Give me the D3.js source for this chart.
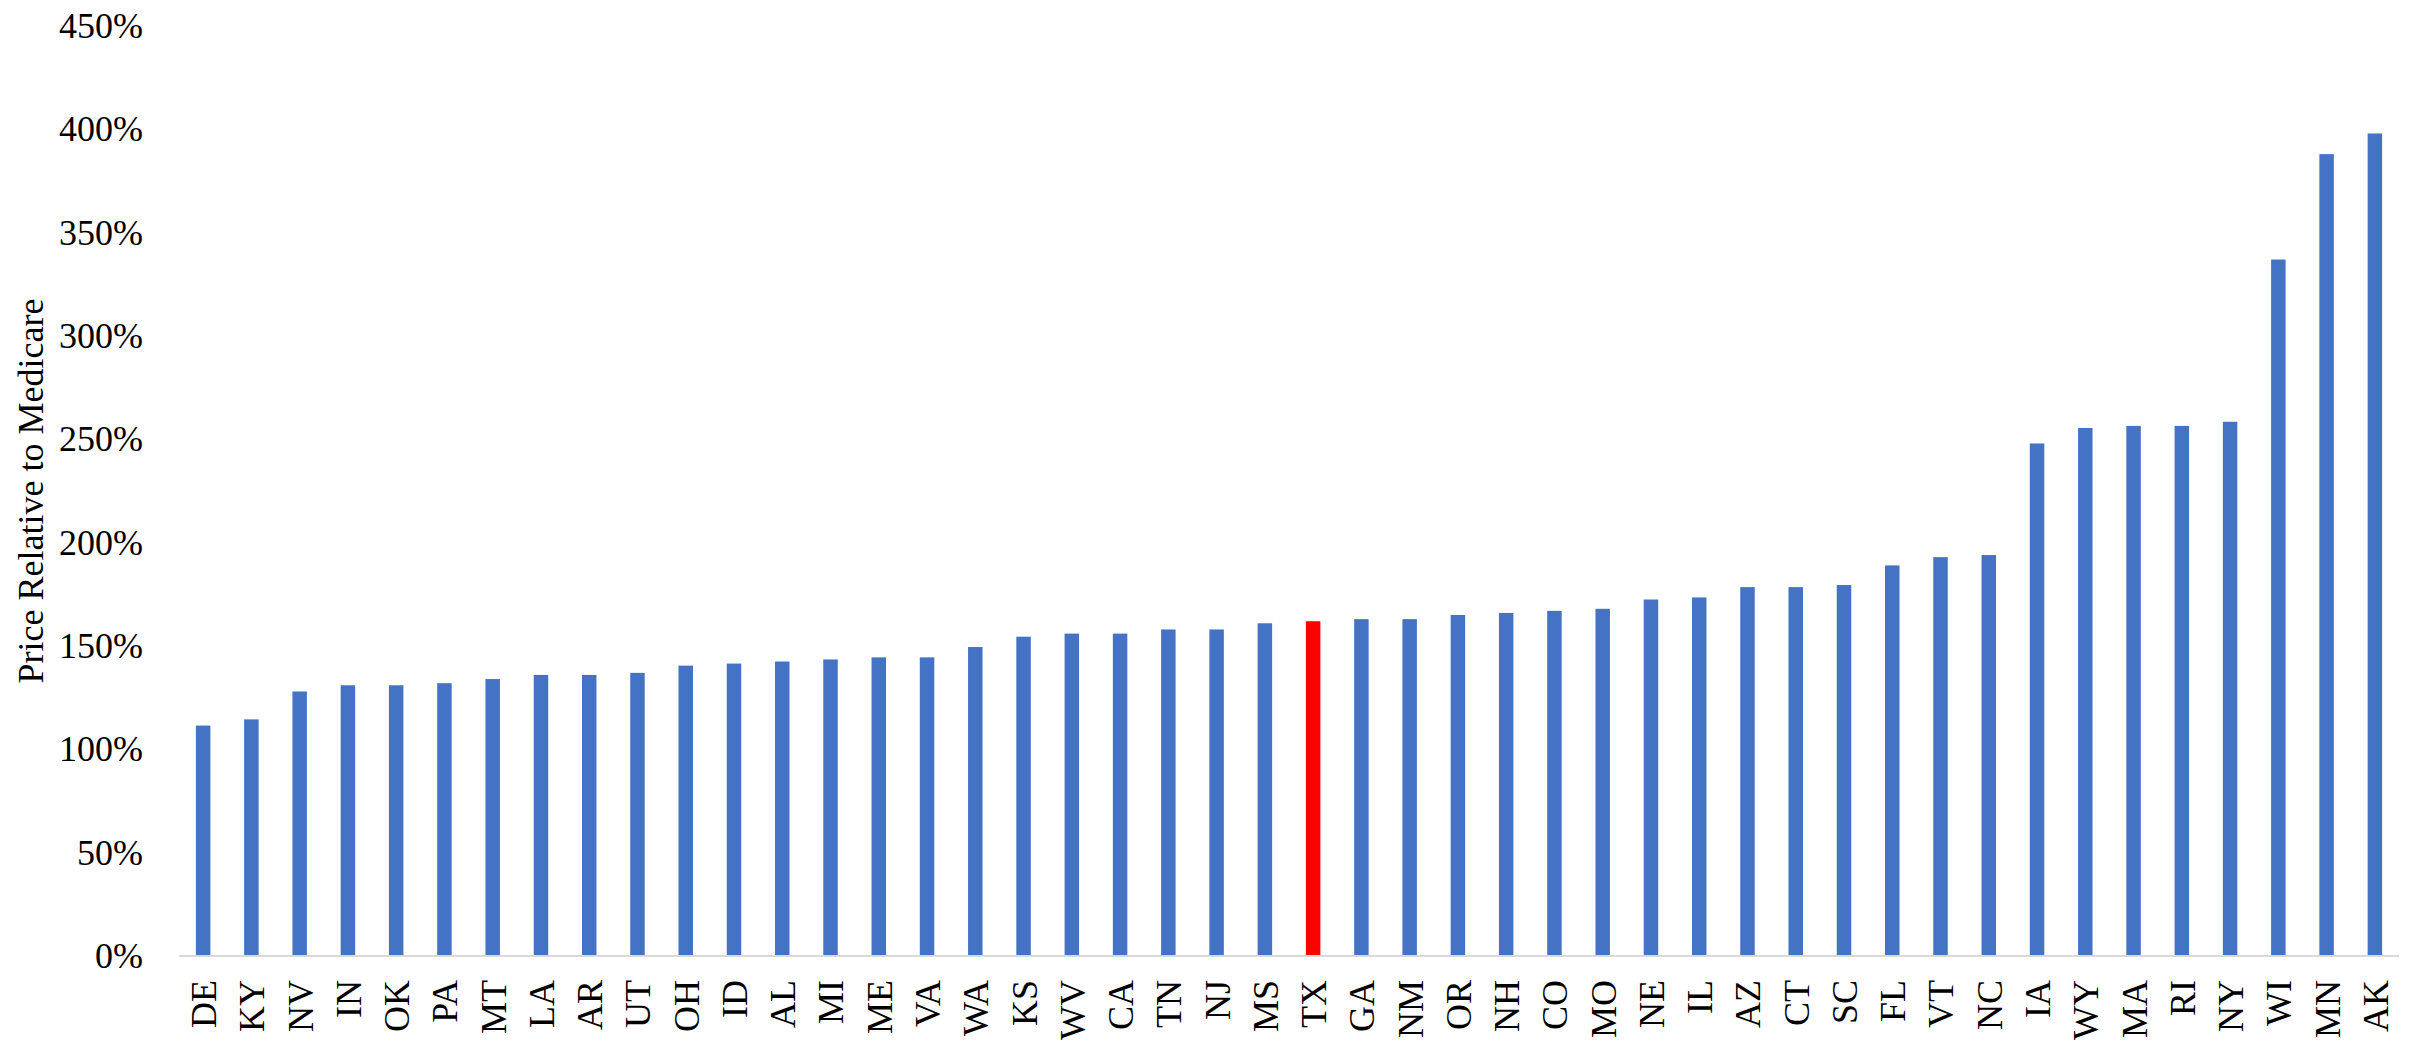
<!DOCTYPE html>
<html>
<head>
<meta charset="utf-8">
<script src="https://cdn.jsdelivr.net/npm/d3@7"></script>
<style>
  html, body { margin: 0; padding: 0; background: #ffffff; }
  svg { display: block; }
  text { font-family: "Liberation Serif", "Times New Roman", serif; fill: #000; }
</style>
</head>
<body>
<script>
// State codes, ordered from lowest to highest price ratio
const states = ["DE","KY","NV","IN","OK","PA","MT","LA","AR","UT","OH","ID","AL","MI","ME","VA","WA","KS","WV","CA",
                "TN","NJ","MS","TX","GA","NM","OR","NH","CO","MO","NE","IL","AZ","CT","SC","FL","VT","NC","IA","WY",
                "MA","RI","NY","WI","MN","AK"];

// Hospital price as a share of Medicare (1.00 = 100%)
const priceRatio = [1.115,1.145,1.28,1.31,1.31,1.32,1.34,1.36,1.36,1.37,1.405,1.415,1.425,1.435,1.445,1.445,1.495,1.545,1.56,1.56,
                    1.58,1.58,1.61,1.62,1.63,1.63,1.65,1.66,1.67,1.68,1.725,1.735,1.785,1.785,1.795,1.89,1.93,1.94,2.48,2.555,
                    2.565,2.565,2.585,3.37,3.88,3.98];

const highlighted = ["TX"];
const yTicks = [0, 0.5, 1, 1.5, 2, 2.5, 3, 3.5, 4, 4.5];
const yTitle = "Price Relative to Medicare";

const W = 2412, H = 1042;
const left = 179, right = 2399, baseY = 956, topY = 26;

const svg = d3.select("body").append("svg")
  .attr("width", W).attr("height", H);

const x = d3.scaleBand()
  .domain(states)
  .range([left, right])
  .paddingInner(0.7)
  .paddingOuter(0.35);

const y = d3.scaleLinear()
  .domain([0, 4.5])
  .range([baseY, topY]);

// Bars
svg.append("g")
  .selectAll("rect")
  .data(states.map((s, i) => ({ state: s, value: priceRatio[i] })))
  .join("rect")
  .attr("x", d => x(d.state))
  .attr("width", x.bandwidth())
  .attr("y", d => y(d.value))
  .attr("height", d => y(0) - y(d.value))
  .attr("fill", d => highlighted.includes(d.state) ? "#FF0000" : "#4472C4");

// Y axis: labels only
const yAxis = svg.append("g")
  .attr("transform", `translate(${left},0)`)
  .call(d3.axisLeft(y).tickValues(yTicks).tickFormat(d3.format(".0%")).tickSize(0).tickPadding(36));
yAxis.select(".domain").remove();
yAxis.selectAll("text")
  .style("font-family", '"Liberation Serif", "Times New Roman", serif')
  .style("font-size", "36px")
  .attr("fill", "#000");

// Category baseline
svg.append("line")
  .attr("x1", left).attr("x2", right)
  .attr("y1", baseY).attr("y2", baseY)
  .attr("stroke", "#D9D9D9")
  .attr("stroke-width", 2);

// X axis: rotated state labels
const xAxis = svg.append("g")
  .attr("transform", `translate(0,${baseY})`)
  .call(d3.axisBottom(x).tickSize(0).tickPadding(0));
xAxis.select(".domain").remove();
xAxis.selectAll(".tick text")
  .attr("transform", "translate(0,24) rotate(-90)")
  .attr("x", 0)
  .attr("y", 0)
  .attr("dy", "0.36em")
  .attr("text-anchor", "end")
  .style("font-family", '"Liberation Serif", "Times New Roman", serif')
  .style("font-size", "36px")
  .attr("fill", "#000");

// Y axis title
svg.append("text")
  .attr("transform", `translate(43,491) rotate(-90)`)
  .attr("text-anchor", "middle")
  .style("font-size", "36px")
  .text(yTitle);
</script>
</body>
</html>
